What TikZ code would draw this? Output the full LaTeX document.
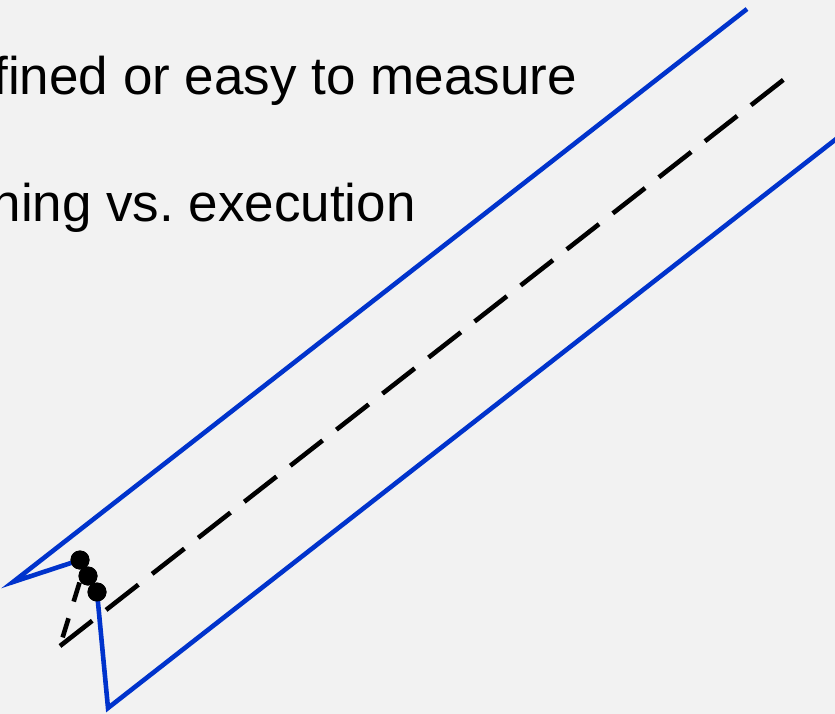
\documentclass[tikz,border=0pt]{standalone}
\usepackage{fontspec}
\setmainfont{Liberation Sans}
\definecolor{bg}{HTML}{F2F2F2}
\definecolor{lineblue}{HTML}{0033CC}
\begin{document}
\frenchspacing
\begin{tikzpicture}[x=1pt,y=-1pt,
  blueline/.style={draw=lineblue,line width=4.6pt,line join=miter},
  dashline/.style={draw=black,line width=4.6pt,dash pattern=on 41pt off 17.5pt},
  shortdash/.style={draw=black,line width=4.6pt,dash pattern=on 20pt off 17.5pt,dash phase=28.5pt},
  dot/.style={circle,fill=black,inner sep=0pt,minimum size=19pt},
  label/.style={font=\fontsize{53}{60}\selectfont,inner sep=0pt,anchor=base east}]
\path[use as bounding box,fill=bg] (0,0) rectangle (835,714);
\clip (0,0) rectangle (835,714);
\node[label] (t1) at (577,95) {fined or easy to measure};
\node[label] (t2) at (416,222) {ning vs. execution};
\coordinate (u1) at (747,9);
\coordinate (u2) at (13,582);
\coordinate (l1) at (108,708);
\coordinate (l2) at (840,136);
\coordinate (d1) at (787,77);
\coordinate (d2) at (60,646);
\coordinate (d0) at (84,568);
\node[dot] (p1) at (80,560) {};
\node[dot] (p2) at (88,576) {};
\node[dot] (p3) at (97,592) {};
\draw[dashline] (d2) -- (d1);
\draw[shortdash] (d2) -- (d0);
\draw[blueline] (u1) -- (u2) -- (p1.center);
\draw[blueline] (p3.center) -- (l1) -- (l2);
\node[dot] at (p1) {};
\node[dot] at (p2) {};
\node[dot] at (p3) {};
\end{tikzpicture}
\end{document}
